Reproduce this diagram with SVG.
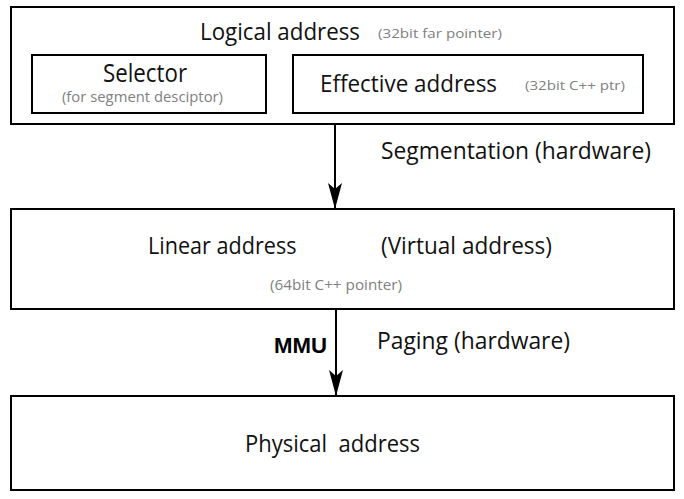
<svg xmlns="http://www.w3.org/2000/svg" width="684" height="499" viewBox="0 0 684 499">
<defs>
<marker id="ah" viewBox="0 0 26 14" refX="26" refY="7" markerWidth="26" markerHeight="14" markerUnits="userSpaceOnUse" orient="auto">
<path d="M0,0 L26,7 L0,14 L6,7 Z" fill="#000"/>
</marker>
<style>
.box{fill:#fff;stroke:#000;stroke-width:2}
.t{font-family:"Open Sans","Noto Sans",sans-serif;font-size:23px;fill:#111}
.s{font-family:"Open Sans","Noto Sans",sans-serif;font-size:13.5px;fill:#808080}
.b{font-family:"Liberation Sans",Arial,sans-serif;font-size:22px;font-weight:bold;fill:#000}
.c{stroke:#000;stroke-width:2;fill:none}
</style>
</defs>
<rect width="684" height="499" fill="#fff"/>
<g id="logical">
<rect class="box" x="11" y="7" width="663" height="117"/>
<text class="t" x="200" y="40" textLength="160" lengthAdjust="spacingAndGlyphs">Logical address</text>
<text class="s" x="378" y="37.5" textLength="124" lengthAdjust="spacingAndGlyphs">(32bit far pointer)</text>
</g>
<g id="selector">
<rect class="box" x="32" y="55" width="234" height="58"/>
<text class="t" x="103" y="81.5" style="font-size:25px" textLength="84" lengthAdjust="spacingAndGlyphs">Selector</text>
<text class="s" x="62" y="102" style="font-size:14px" textLength="161" lengthAdjust="spacingAndGlyphs">(for segment desciptor)</text>
</g>
<g id="effective">
<rect class="box" x="293" y="55" width="350" height="58"/>
<text class="t" x="320" y="91.5" textLength="177" lengthAdjust="spacingAndGlyphs">Effective address</text>
<text class="s" x="525" y="90" textLength="100" lengthAdjust="spacingAndGlyphs">(32bit C++ ptr)</text>
</g>
<g id="linear">
<rect class="box" x="11" y="209" width="663" height="100"/>
<text class="t" x="148" y="254" textLength="148.5" lengthAdjust="spacingAndGlyphs">Linear address</text>
<text class="t" x="381" y="254" textLength="171" lengthAdjust="spacingAndGlyphs">(Virtual address)</text>
<text class="s" x="270" y="290" style="font-size:14px" textLength="132" lengthAdjust="spacingAndGlyphs">(64bit C++ pointer)</text>
</g>
<g id="physical">
<rect class="box" x="11" y="396" width="663" height="94"/>
<text class="t" x="245" y="451.5" style="font-size:24px" textLength="175" lengthAdjust="spacingAndGlyphs" xml:space="preserve">Physical  address</text>
</g>
<g id="connectors">
<line class="c" x1="335" y1="124" x2="335" y2="209" marker-end="url(#ah)"/>
<text class="t" x="381" y="158.5" textLength="270" lengthAdjust="spacingAndGlyphs">Segmentation (hardware)</text>
<line class="c" x1="336" y1="309" x2="336" y2="396" marker-end="url(#ah)"/>
<text class="b" x="274" y="353" textLength="53" lengthAdjust="spacingAndGlyphs">MMU</text>
<text class="t" x="377" y="349" textLength="193" lengthAdjust="spacingAndGlyphs">Paging (hardware)</text>
</g>
</svg>
